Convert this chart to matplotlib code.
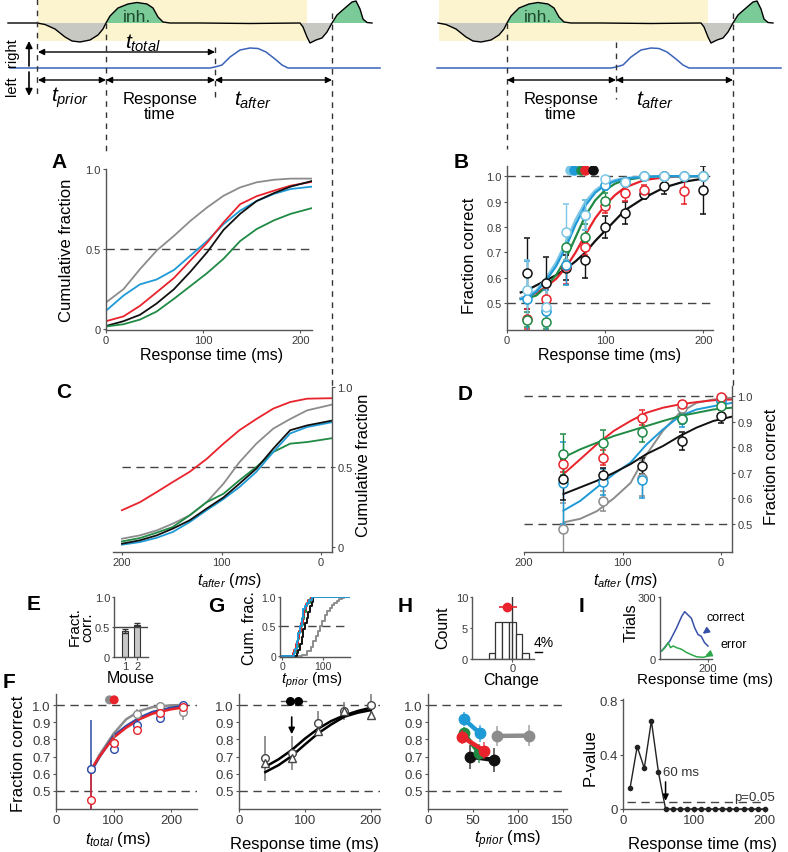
import numpy as np
import matplotlib
matplotlib.use('Agg')
import matplotlib.pyplot as plt
from matplotlib.patches import Rectangle

plt.rcParams['font.family'] = ['Liberation Sans', 'DejaVu Sans']
plt.rcParams['mathtext.fontset'] = 'custom'
plt.rcParams['mathtext.rm'] = 'Liberation Sans'
plt.rcParams['mathtext.it'] = 'Liberation Sans:italic'
plt.rcParams['mathtext.bf'] = 'Liberation Sans:bold'

C_GREY = '#8c8c8c'
C_BLUE = '#1e9ad6'
C_LTBLUE = '#7cc6e6'
C_RED = '#e8232b'
C_GREEN = '#1f8a44'
C_BLACK = '#111111'
C_DKBLUE = '#2d4aa8'
AX_COL = '#555555'

# ---------------- schematic traces (illustration, pixel units) ----------------
trace_x = [8, 37, 45, 55, 65, 72, 80, 90, 98, 103, 106, 110, 118, 128, 137, 147, 153, 158, 163, 170,
           200, 250, 300, 303, 307, 310, 316, 322, 327, 332, 337, 345, 352, 356, 360, 363, 367, 372]
trace_y = [24, 24, 25.5, 30, 38, 42, 43, 41, 36, 30, 24, 17, 9, 5, 3.5, 5, 9, 18, 23, 24,
           24, 24.5, 24, 28, 38, 44, 41, 39, 33, 24, 16, 9, 3, 2, 10, 20, 23.5, 24]
resp_x = [36, 210, 215, 222, 230, 240, 250, 258, 266, 275, 282, 288, 380]
resp_y = [69, 69, 68, 66, 58, 51, 49, 49.5, 53, 60, 66, 69, 69]
SHIFT = 401

# ---------------- Panel A ----------------
A_t = [0, 18, 35, 52, 70, 87, 104, 121, 138, 155, 173, 190, 212]
A_grey = [0.167, 0.25, 0.375, 0.49, 0.583, 0.677, 0.76, 0.833, 0.885, 0.917, 0.933, 0.94, 0.94]
A_blue = [0.115, 0.21, 0.28, 0.31, 0.37, 0.46, 0.55, 0.656, 0.74, 0.80, 0.845, 0.875, 0.89]
A_red = [0.05, 0.08, 0.146, 0.23, 0.32, 0.43, 0.54, 0.667, 0.78, 0.83, 0.865, 0.896, 0.92]
A_black = [0.02, 0.05, 0.09, 0.16, 0.25, 0.36, 0.48, 0.62, 0.72, 0.80, 0.85, 0.89, 0.925]
A_green = [0.017, 0.031, 0.06, 0.11, 0.19, 0.27, 0.35, 0.44, 0.55, 0.625, 0.68, 0.72, 0.756]

# ---------------- Panel B ----------------
B_t = [14, 20, 30, 40, 50, 60, 70, 80, 90, 100, 110, 120, 140, 160, 180, 200]
B_black = [0.542, 0.55, 0.57, 0.59, 0.61, 0.635, 0.665, 0.70, 0.745, 0.785, 0.825, 0.865, 0.915, 0.955, 0.978, 0.99]
B_red = [0.52, 0.525, 0.54, 0.565, 0.595, 0.64, 0.70, 0.77, 0.835, 0.885, 0.925, 0.955, 0.985, 0.995, 1.0, 1.0]
B_green = [0.516, 0.518, 0.53, 0.565, 0.61, 0.675, 0.76, 0.845, 0.905, 0.945, 0.97, 0.985, 0.996, 1.0, 1.0, 1.0]
B_blue = [0.516, 0.52, 0.545, 0.59, 0.645, 0.72, 0.81, 0.885, 0.935, 0.965, 0.98, 0.99, 0.997, 1.0, 1.0, 1.0]
B_ltblue = [0.52, 0.525, 0.55, 0.60, 0.66, 0.74, 0.83, 0.90, 0.945, 0.972, 0.985, 0.993, 0.998, 1.0, 1.0, 1.0]
B_pt_t = [20, 40, 60, 80, 100, 120, 140, 160, 180, 200]
B_pk = [0.618, 0.578, 0.64, 0.67, 0.80, 0.855, 0.93, 0.96, np.nan, 0.946]
B_ek = [0.14, 0.105, 0.05, 0.07, 0.045, 0.045, 0.02, 0.03, np.nan, 0.095]
B_pr = [0.437, 0.516, 0.647, 0.72, 0.884, 0.934, 0.947, 1.0, 0.94, 1.0]
B_er = [0.04, 0.04, 0.07, 0.03, 0.03, 0.03, 0.02, 0.0, 0.05, 0.0]
B_pg = [0.434, 0.426, 0.72, 0.76, 0.904, 0.976, 1.0, 1.0, 1.0, 1.0]
B_eg = [0.03, 0.03, 0.05, 0.05, 0.03, 0.01, 0.0, 0.0, 0.0, 0.0]
B_pb = [0.516, 0.47, 0.65, 0.847, 0.966, 0.976, 1.0, 1.0, 1.0, 1.0]
B_eb = [0.15, 0.08, 0.08, 0.06, 0.02, 0.01, 0.0, 0.0, 0.0, 0.0]
B_plb = [0.551, 0.486, 0.78, 0.847, 0.987, 0.976, 1.0, 1.0, 1.0, 1.0]
B_elb = [0.12, 0.08, 0.11, 0.06, 0.01, 0.01, 0.0, 0.0, 0.0, 0.0]
B_dot_t = [64, 68, 75, 80, 88]
B_dot_y = [1.026, 1.026, 1.026, 1.026, 1.026]
B_dot_err = [3, 3, 3, 3, 5]

# ---------------- Panel C ----------------
C_t = [200, 182, 165, 149, 132, 115, 98, 82, 65, 48, 31, 14, -11]
C_red = [0.23, 0.28, 0.344, 0.406, 0.47, 0.55, 0.646, 0.73, 0.80, 0.865, 0.906, 0.927, 0.93]
C_grey = [0.052, 0.073, 0.104, 0.146, 0.198, 0.28, 0.396, 0.53, 0.646, 0.74, 0.80, 0.854, 0.89]
C_black = [0.021, 0.042, 0.073, 0.115, 0.167, 0.24, 0.31, 0.396, 0.49, 0.615, 0.73, 0.76, 0.79]
C_blue = [0.015, 0.031, 0.058, 0.094, 0.156, 0.23, 0.30, 0.375, 0.47, 0.594, 0.71, 0.75, 0.78]
C_green = [0.035, 0.056, 0.09, 0.125, 0.198, 0.28, 0.333, 0.417, 0.50, 0.594, 0.646, 0.656, 0.68]

# ---------------- Panel D ----------------
D_t = [160, 143, 126, 109, 92, 76, 59, 42, 25, 8, -11]
D_grey = [0.506, 0.52, 0.55, 0.60, 0.66, 0.77, 0.865, 0.935, 0.974, 0.987, 0.994]
D_blue = [0.552, 0.59, 0.643, 0.695, 0.74, 0.81, 0.87, 0.922, 0.948, 0.961, 0.974]
D_black = [0.617, 0.643, 0.669, 0.70, 0.734, 0.773, 0.805, 0.844, 0.877, 0.903, 0.92]
D_red = [0.695, 0.753, 0.812, 0.864, 0.903, 0.935, 0.955, 0.968, 0.977, 0.984, 0.987]
D_green = [0.76, 0.792, 0.818, 0.844, 0.864, 0.883, 0.903, 0.922, 0.935, 0.948, 0.955]
D_pt_t = [160, 120, 80, 40, 0]
D_pg = [0.773, 0.818, 0.86, 0.91, 0.96]
D_eg = [0.08, 0.05, 0.04, 0.02, 0.01]
D_pr = [0.734, 0.76, 0.916, 0.968, 0.997]
D_er = [0.03, 0.03, 0.03, 0.012, 0.005]
D_pk = [0.675, 0.69, 0.727, 0.825, 0.922]
D_ek = [0.08, 0.03, 0.03, 0.035, 0.025]
D_pb = [0.66, 0.665, 0.67, 0.91, 0.98]
D_eb = [0.16, 0.05, 0.07, 0.03, 0.01]
D_pgr = [0.48, 0.59, 0.68, 0.955, 0.985]
D_egr = [0.10, 0.04, 0.07, 0.02, 0.01]

# ---------------- Panel E ----------------
E_mouse = [1, 2]
E_frac = [0.43, 0.54]
E_err = [0.035, 0.025]

# ---------------- Panel G ----------------
G_blue_t = [0, 28, 32, 36, 40, 44, 48, 52, 56, 60, 66, 72, 166]
G_blue = [0, 0.05, 0.12, 0.25, 0.38, 0.5, 0.65, 0.8, 0.85, 0.9, 0.95, 1.0, 1.0]
G_red_t = [0, 26, 30, 34, 38, 42, 46, 50, 54, 58, 64, 70, 166]
G_red = [0, 0.04, 0.1, 0.2, 0.3, 0.42, 0.55, 0.7, 0.8, 0.88, 0.95, 1.0, 1.0]
G_green_t = [0, 30, 34, 38, 42, 46, 50, 54, 58, 62, 68, 74, 166]
G_green = [0, 0.06, 0.15, 0.28, 0.4, 0.52, 0.62, 0.75, 0.85, 0.9, 0.96, 1.0, 1.0]
G_black_t = [0, 36, 40, 44, 48, 52, 56, 60, 64, 68, 72, 76, 166]
G_black = [0, 0.05, 0.1, 0.2, 0.32, 0.45, 0.55, 0.65, 0.75, 0.85, 0.92, 1.0, 1.0]
G_grey_t = [0, 48, 60, 70, 76, 82, 88, 92, 98, 104, 110, 116, 122, 128, 134, 140, 146, 152, 166]
G_grey = [0, 0.02, 0.08, 0.15, 0.25, 0.33, 0.42, 0.5, 0.6, 0.7, 0.76, 0.82, 0.86, 0.9, 0.93, 0.97, 0.98, 1.0, 1.0]

# ---------------- Panel F ----------------
F_t = [60, 75, 100, 122, 145, 168, 200, 220]
F_grey = [0.61, 0.707, 0.833, 0.917, 0.965, 0.988, 0.998, 1.0]
F_blue = [0.607, 0.694, 0.82, 0.878, 0.926, 0.96, 0.984, 0.994]
F_red = [0.62, 0.698, 0.81, 0.868, 0.917, 0.95, 0.975, 0.985]
F_pt_t = [60, 100, 140, 180, 220]
F_pb = [0.63, 0.746, 0.884, 0.925, 1.0]
F_eb = [0.28, 0.03, 0.03, 0.03, 0.01]
F_pr = [0.45, 0.78, 0.855, 0.952, 0.988]
F_er = [0.15, 0.03, 0.02, 0.02, 0.01]
F_pg = [0.63, 0.78, 0.946, 0.994, 0.96]
F_eg = [0.05, 0.05, 0.03, 0.01, 0.05]
F_dot_t = [93, 101]
F_dot_y = [1.03, 1.03]

# ---------------- Panel F (right, response time) ----------------
F2_t = [40, 60, 80, 100, 120, 140, 160, 180, 200]
F2_upper = [0.641, 0.684, 0.738, 0.804, 0.862, 0.907, 0.94, 0.965, 0.984]
F2_lower = [0.61, 0.65, 0.703, 0.77, 0.835, 0.887, 0.932, 0.955, 0.97]
F2_pt_t = [40, 80, 120, 160, 200]
F2_circ = [0.69, 0.72, 0.893, 0.965, 1.0]
F2_tri = [0.665, 0.694, 0.85, 0.965, 0.94]
F2_err = [0.13, 0.10, 0.07, 0.05, 0.09]
F2_dot_t = [78, 90]
F2_dot_y = [1.023, 1.023]

# ---------------- Panel H ----------------
H_edges = [-14, -10, -6, -2, 2, 6, 10]
H_counts = [1, 6, 6, 6, 4, 1]
H_mean = -3
H_mean_y = 8.4
H_ci = [5, 6]
H_blue_t, H_blue, H_blue_e = [40, 58], [0.918, 0.835], [0.04, 0.05]
H_green_t, H_green, H_green_e = [40, 57], [0.835, 0.72], [0.035, 0.055]
H_red_t, H_red, H_red_e = [38, 63], [0.815, 0.733], [0.04, 0.05]
H_black_t, H_black, H_black_e = [47, 74], [0.70, 0.68], [0.07, 0.07]
H_grey_t, H_grey, H_grey_e = [77, 113], [0.82, 0.822], [0.06, 0.06]

# ---------------- Panel I ----------------
I_c_t = [7, 41, 69, 90, 103, 117, 131, 145, 159, 172, 186, 200]
I_correct = [39, 87, 150, 205, 229, 213, 197, 150, 118, 110, 79, 63]
I_e_t = [7, 21, 34, 44, 55, 69, 90, 110, 131, 152, 179, 207]
I_error = [39, 55, 79, 55, 63, 55, 47, 32, 21, 11, 8, 16]
I_p_t = [10, 20, 30, 40, 50, 60, 70, 80, 90, 100, 110, 120, 130, 140, 150, 160, 170, 180, 190, 200]
I_p = [0.155, 0.46, 0.30, 0.65, 0.27, 0, 0, 0, 0, 0, 0, 0, 0, 0, 0, 0, 0, 0, 0, 0]

# ============================================================
W, H = 788, 853
fig = plt.figure(figsize=(W / 100, H / 100), dpi=100)

ov = fig.add_axes([0, 0, 1, 1])
ov.set_xlim(0, W)
ov.set_ylim(H, 0)
ov.axis('off')


def mk(l, t, r, b, xlim, ylim, side='left', tsize=8, pad=1.5, tlen=2.2):
    ax = fig.add_axes([l / W, 1 - b / H, (r - l) / W, (b - t) / H])
    ax.patch.set_alpha(0)
    ax.set_xlim(*xlim)
    ax.set_ylim(*ylim)
    for s in ax.spines.values():
        s.set_visible(False)
    for s in ('bottom', side):
        ax.spines[s].set_visible(True)
        ax.spines[s].set_color(AX_COL)
        ax.spines[s].set_linewidth(1.0)
    if side == 'right':
        ax.yaxis.tick_right()
        ax.yaxis.set_label_position('right')
    ax.tick_params(colors=AX_COL, labelcolor='#3a3a3a', labelsize=tsize, length=tlen, width=0.8, pad=pad)
    ax._px = (l, t, r, b)
    return ax


def xlab(ax, s, x, y, size=12):
    l, t, r, b = ax._px
    ax.set_xlabel(s, fontsize=size, va='center', ha='center')
    ax.xaxis.set_label_coords((x - l) / (r - l), (b - y) / (b - t))


def ylab(ax, s, x, y, size=12, ls=1.0):
    l, t, r, b = ax._px
    ax.set_ylabel(s, fontsize=size, va='center', ha='center', linespacing=ls)
    ax.yaxis.set_label_coords((x - l) / (r - l), (b - y) / (b - t))


def dash(ax, y, x0=None, x1=None):
    if x0 is None:
        ax.axhline(y, color='#444', lw=1.0, dashes=(6, 4), zorder=1)
    else:
        ax.hlines(y, x0, x1, color='#444', lw=1.0, linestyles=(0, (6, 4)), zorder=1)


# ---------------- schematic ----------------
def draw_schematic(off, full):
    tx = np.array(trace_x, float)
    ty = np.array(trace_y, float)
    if not full:
        keep = tx >= 37
        tx, ty = tx[keep], ty[keep]
    tx = tx + off
    ov.add_patch(Rectangle((38 + off, 0), 269, 42, color='#fcf4cf', zorder=0, lw=0))
    ov.fill_between(tx, ty, 24, where=ty >= 24, interpolate=True, color='#c8c8c2', zorder=1, lw=0)
    ov.fill_between(tx, ty, 24, where=ty <= 24, interpolate=True, color='#7acb98', zorder=1, lw=0)
    ov.plot(tx, ty, color='k', lw=1.0, zorder=2)
    rx = list(np.array(resp_x) + off)
    ry = list(resp_y)
    if full:
        rx = [10] + rx
        ry = [69] + ry
    ov.plot(rx, ry, color='#3a63b8', lw=1.1, zorder=2)
    ov.text(137 + off, 17, 'inh.', fontsize=12.5, color='#1f4a2c', ha='center', va='center', zorder=3)


draw_schematic(0, True)
draw_schematic(SHIFT, False)


def darrow(x1, x2, y):
    ov.annotate('', xy=(x2, y), xytext=(x1, y),
                arrowprops=dict(arrowstyle='<|-|>', color='k', lw=1.0, mutation_scale=9,
                                shrinkA=0, shrinkB=0))


def vdash(x, y0, y1):
    ov.plot([x, x], [y0, y1], color='#333', lw=1.0, dashes=(4, 4))


darrow(38, 215, 53)
darrow(38, 106, 81)
darrow(106, 215, 81)
darrow(215, 332, 81)
darrow(507, 616, 81)
darrow(616, 733, 81)
for (x, y0, y1) in [(37, 0, 95), (106, 24, 157), (215, 48, 100), (332, 14, 388),
                    (507, 24, 150), (616, 43, 100), (733, 14, 387)]:
    vdash(x, y0, y1)
ov.annotate('', xy=(29, 42), xytext=(29, 67),
            arrowprops=dict(arrowstyle='-|>', color='k', lw=1.2, mutation_scale=10, shrinkA=0, shrinkB=0))
ov.annotate('', xy=(29, 97), xytext=(29, 73),
            arrowprops=dict(arrowstyle='-|>', color='k', lw=1.2, mutation_scale=10, shrinkA=0, shrinkB=0))
ov.text(12, 53, 'right', rotation=90, fontsize=10.5, ha='center', va='center')
ov.text(12, 86, 'left', rotation=90, fontsize=10.5, ha='center', va='center')
ov.text(143, 43, r'$t_{total}$', fontsize=15, ha='center', va='center')
ov.text(70, 98, r'$t_{prior}$', fontsize=15, ha='center', va='center')
ov.text(160, 107, 'Response\ntime', fontsize=12, ha='center', va='center', linespacing=0.95)
ov.text(253, 100, r'$t_{after}$', fontsize=15, ha='center', va='center')
ov.text(561, 107, 'Response\ntime', fontsize=12, ha='center', va='center', linespacing=0.95)
ov.text(655, 100, r'$t_{after}$', fontsize=15, ha='center', va='center')

# panel letters
for lab, (x, y) in {'A': (59, 162), 'B': (461, 162), 'C': (64, 393), 'D': (465, 395),
                    'E': (34, 605), 'G': (216, 607), 'F': (9, 682), 'H': (405, 606),
                    'I': (582, 606)}.items():
    ov.text(x, y, lab, fontsize=15, fontweight='bold', ha='center', va='center')

# ---------------- A ----------------
axA = mk(106, 170, 312, 331, (0, 212), (-0.005, 1.0))
dash(axA, 0.5)
for y, c in [(A_grey, C_GREY), (A_blue, C_BLUE), (A_red, C_RED), (A_black, C_BLACK), (A_green, C_GREEN)]:
    axA.plot(A_t, y, color=c, lw=1.3)
axA.set_xticks([0, 100, 200])
axA.set_yticks([0, 0.5, 1.0])
axA.set_yticklabels(['0', '0.5', '1.0'])
xlab(axA, 'Response time (ms)', 212, 356, size=11.5)
ylab(axA, 'Cumulative fraction', 67, 250)

# ---------------- B ----------------
axB = mk(507, 167, 713, 331, (0, 210), (0.394, 1.04))
dash(axB, 1.0)
dash(axB, 0.5)
for y, c in [(B_black, C_BLACK), (B_red, C_RED), (B_green, C_GREEN), (B_ltblue, C_LTBLUE), (B_blue, C_BLUE)]:
    axB.plot(B_t, y, color=c, lw=1.6)
for y, e, c in [(B_pk, B_ek, C_BLACK), (B_pr, B_er, C_RED), (B_pg, B_eg, C_GREEN),
                (B_pb, B_eb, C_BLUE), (B_plb, B_elb, C_LTBLUE)]:
    axB.errorbar(B_pt_t, y, yerr=e, fmt='o', mfc='white', mec=c, ecolor=c, ms=6.5, mew=1.1,
                 capsize=2.5, elinewidth=1)
for x, y, e, c in zip(B_dot_t, B_dot_y, B_dot_err, [C_LTBLUE, C_BLUE, C_GREEN, C_RED, C_BLACK]):
    axB.errorbar([x], [y], xerr=[e], fmt='o', color=c, ms=6.5, elinewidth=1, capsize=0)
axB.set_xticks([0, 100, 200])
axB.set_yticks([0.5, 0.6, 0.7, 0.8, 0.9, 1.0])
axB.set_yticklabels(['0.5', '0.6', '0.7', '0.8', '0.9', '1.0'])
xlab(axB, 'Response time (ms)', 610, 356, size=11.5)
ylab(axB, 'Fraction correct', 470, 256)

# ---------------- C ----------------
axC = mk(113, 388, 332, 553, (209, -11), (-0.031, 1.0), side='right')
dash(axC, 0.5, 200, -11)
for y, c in [(C_red, C_RED), (C_grey, C_GREY), (C_green, C_GREEN), (C_blue, C_BLUE), (C_black, C_BLACK)]:
    axC.plot(C_t, y, color=c, lw=1.3)
axC.set_xticks([200, 100, 0])
axC.set_yticks([0, 0.5, 1.0])
axC.set_yticklabels(['0', '0.5', '1.0'])
xlab(axC, r'$t_{after}\ (ms)$', 229, 580, size=11.5)
ylab(axC, 'Cumulative fraction', 364, 465)

# ---------------- D ----------------
axD = mk(524, 387, 732, 553, (200, -11), (0.39, 1.04), side='right')
dash(axD, 1.0, 200, -11)
dash(axD, 0.5, 200, -11)
for y, c in [(D_grey, C_GREY), (D_blue, C_BLUE), (D_black, C_BLACK), (D_red, C_RED), (D_green, C_GREEN)]:
    axD.plot(D_t, y, color=c, lw=1.4)
for y, e, c in [(D_pgr, D_egr, C_GREY), (D_pb, D_eb, C_BLUE), (D_pk, D_ek, C_BLACK),
                (D_pr, D_er, C_RED), (D_pg, D_eg, C_GREEN)]:
    axD.errorbar(D_pt_t, y, yerr=e, fmt='o', mfc='white', mec=c, ecolor=c, ms=6.5, mew=1.1,
                 capsize=2.5, elinewidth=1)
axD.set_xticks([200, 100, 0])
axD.set_yticks([0.5, 0.6, 0.7, 0.8, 0.9, 1.0])
axD.set_yticklabels(['0.5', '0.6', '0.7', '0.8', '0.9', '1.0'])
xlab(axD, r'$t_{after}\ (ms)$', 625, 580, size=11.5)
ylab(axD, 'Fraction correct', 772, 467)

# ---------------- E ----------------
axE = mk(114, 598, 148, 658, (0.1, 2.9), (0, 1.0), tsize=8, pad=1, tlen=1.8)
axE.bar(E_mouse, E_frac, width=0.55, color='#c8c8c8', edgecolor='#333', lw=0.8)
axE.errorbar(E_mouse, E_frac, yerr=E_err, fmt='none', ecolor='#333', elinewidth=0.9, capsize=2)
axE.axhline(0.5, color='#444', lw=1.0)
axE.set_xticks([1, 2])
axE.set_yticks([0, 0.5, 1.0])
axE.set_yticklabels(['0', '0.5', '1.0'])
xlab(axE, 'Mouse', 131, 679, size=11.5)
ylab(axE, 'Fract.\ncorr.', 81, 627, size=11, ls=0.85)

# ---------------- G ----------------
axG = mk(280, 598, 350, 658, (-5, 166), (-0.02, 1.0), tsize=7.5, pad=1, tlen=1.8)
dash(axG, 0.5)
for tt, y, c in [(G_grey_t, G_grey, C_GREY), (G_black_t, G_black, C_BLACK), (G_green_t, G_green, C_GREEN),
                 (G_red_t, G_red, C_RED), (G_blue_t, G_blue, C_BLUE)]:
    axG.plot(tt, y, color=c, lw=1.4, drawstyle='steps-post')
axG.set_xticks([0, 100])
axG.set_yticks([0, 0.5, 1.0])
axG.set_yticklabels(['0', '0.5', '1.0'])
xlab(axG, r'$t_{prior}$ (ms)', 312, 680, size=11)
ylab(axG, 'Cum. frac.', 250, 628, size=11.5)

# ---------------- F ----------------
yt = [0.5, 0.6, 0.7, 0.8, 0.9, 1.0]
ytl = ['0.5', '0.6', '0.7', '0.8', '0.9', '1.0']
axF = mk(56, 695, 197, 810, (0, 245), (0.395, 1.064), tsize=9.5)
dash(axF, 1.0)
dash(axF, 0.5)
for y, c in [(F_grey, C_GREY), (F_blue, C_DKBLUE), (F_red, C_RED)]:
    axF.plot(F_t, y, color=c, lw=1.8)
for y, e, c in [(F_pg, F_eg, C_GREY), (F_pb, F_eb, C_DKBLUE), (F_pr, F_er, C_RED)]:
    axF.errorbar(F_pt_t, y, yerr=e, fmt='o', mfc='white', mec=c, ecolor=c, ms=5.5, mew=1.0,
                 capsize=0, elinewidth=1.1)
axF.errorbar(F_dot_t, F_dot_y, xerr=[3, 3], fmt='none', ecolor='#777', elinewidth=1)
axF.scatter(F_dot_t, F_dot_y, color=[C_GREY, C_RED], s=30, zorder=5)
axF.set_xticks([0, 100, 200])
axF.set_yticks(yt)
axF.set_yticklabels(ytl)
xlab(axF, r'$t_{total}$ (ms)', 118, 840)
ylab(axF, 'Fraction correct', 18, 754)

# ---------------- F right ----------------
axF2 = mk(239, 695, 380, 810, (0, 214), (0.395, 1.064), tsize=9.5)
dash(axF2, 1.0)
dash(axF2, 0.5)
axF2.errorbar(F2_pt_t, F2_circ, yerr=F2_err, fmt='none', ecolor='#777', elinewidth=1.1)
axF2.plot(F2_t, F2_upper, color='k', lw=1.8)
axF2.plot(F2_t, F2_lower, color='k', lw=1.8)
axF2.plot(F2_pt_t, F2_circ, 'o', mfc='white', mec='#444', ms=5.5, mew=1.0)
axF2.plot(F2_pt_t, F2_tri, '^', mfc='white', mec='#444', ms=5.5, mew=1.0)
axF2.plot([63, 102], F2_dot_y, color='#555', lw=1)
axF2.scatter(F2_dot_t, F2_dot_y, color='k', s=30, zorder=5)
axF2.annotate('', xy=(80, 0.83), xytext=(80, 0.93),
              arrowprops=dict(arrowstyle='-|>', color='k', lw=1.2, mutation_scale=9, shrinkA=0, shrinkB=0))
axF2.set_xticks([0, 100, 200])
axF2.set_yticks(yt)
axF2.set_yticklabels(ytl)
xlab(axF2, 'Response time (ms)', 305, 845)

# ---------------- H top ----------------
axH = mk(472, 598, 534, 660, (-24, 13), (0, 10), tsize=8, pad=1, tlen=1.8)
axH.bar(H_edges[:-1], H_counts, width=4, align='edge', color='white', edgecolor='#333', lw=0.9)
axH.axvline(0, color='#333', lw=1.0)
axH.errorbar([H_mean], [H_mean_y], xerr=[[H_ci[0]], [H_ci[1]]], fmt='o', color=C_RED, ms=6, elinewidth=1.2)
axH.plot([13.7, 17.7], [1.1, 1.1], color='k', lw=1, clip_on=False)
axH.text(18.5, 2.7, '4%', fontsize=10, ha='center', va='center', clip_on=False)
axH.set_xticks([0])
axH.set_yticks([0, 5, 10])
xlab(axH, 'Change', 511, 680, size=11.5)
ylab(axH, 'Count', 443, 628, size=11.5)

# ---------------- H bottom ----------------
axH2 = mk(428, 695, 567, 810, (0, 155), (0.395, 1.064), tsize=9.5)
dash(axH2, 1.0)
dash(axH2, 0.5)
for tt, y, e, c in [(H_grey_t, H_grey, H_grey_e, C_GREY), (H_black_t, H_black, H_black_e, C_BLACK),
                    (H_green_t, H_green, H_green_e, C_GREEN), (H_red_t, H_red, H_red_e, C_RED),
                    (H_blue_t, H_blue, H_blue_e, C_BLUE)]:
    axH2.errorbar(tt, y, yerr=e, fmt='none', ecolor=c, elinewidth=1.1, alpha=0.8)
    axH2.plot(tt, y, '-o', color=c, lw=3.2, ms=7.5, mfc=c, mec=c)
axH2.set_xticks([0, 50, 100, 150])
axH2.set_yticks(yt)
axH2.set_yticklabels(ytl)
xlab(axH2, r'$t_{prior}$ (ms)', 508, 840)

# ---------------- I top ----------------
axI = mk(660, 598, 712, 660, (0, 217), (0, 300), tsize=8, pad=1, tlen=1.8)
axI.plot(I_c_t, I_correct, color='#3850a8', lw=1.1)
axI.plot(I_e_t, I_error, color='#2ea84a', lw=1.1)
axI.annotate('correct', xy=(178, 122), xytext=(275, 203), fontsize=9, ha='center', va='center',
             annotation_clip=False,
             arrowprops=dict(arrowstyle='-|>', color='#3850a8', lw=1.2, mutation_scale=9,
                             shrinkA=6, shrinkB=0))
axI.annotate('error', xy=(188, 14), xytext=(308, 73), fontsize=9, ha='center', va='center',
             annotation_clip=False,
             arrowprops=dict(arrowstyle='-|>', color='#2ea84a', lw=1.2, mutation_scale=9,
                             shrinkA=6, shrinkB=0))
axI.set_xticks([200])
axI.set_yticks([0, 300])
xlab(axI, 'Response time (ms)', 705, 680, size=11)
ylab(axI, 'Trials', 631, 623, size=11.5)

# ---------------- I bottom ----------------
axI2 = mk(623, 700, 767, 810, (0, 203), (0, 0.81), tsize=9.5)
axI2.hlines(0.05, 5, 200, color='#444', lw=1.0, linestyles=(0, (6, 4)))
axI2.plot(I_p_t, I_p, '-o', color='#222', lw=1.0, ms=3, clip_on=False, zorder=5)
axI2.annotate('', xy=(60, 0.06), xytext=(60, 0.2),
              arrowprops=dict(arrowstyle='-|>', color='k', lw=1.1, mutation_scale=9, shrinkA=0, shrinkB=0))
axI2.text(57, 0.275, '60 ms', fontsize=9.5, ha='left', va='center', color='#333')
axI2.text(186, 0.085, 'p=0.05', fontsize=9.5, ha='center', va='center', color='#333', clip_on=False)
axI2.set_xticks([0, 100, 200])
axI2.set_yticks([0, 0.4, 0.8])
axI2.set_yticklabels(['0', '0.4', '0.8'])
xlab(axI2, 'Response time (ms)', 702, 845)
ylab(axI2, 'P-value', 590, 758)

fig.savefig('out.png', dpi=100)
